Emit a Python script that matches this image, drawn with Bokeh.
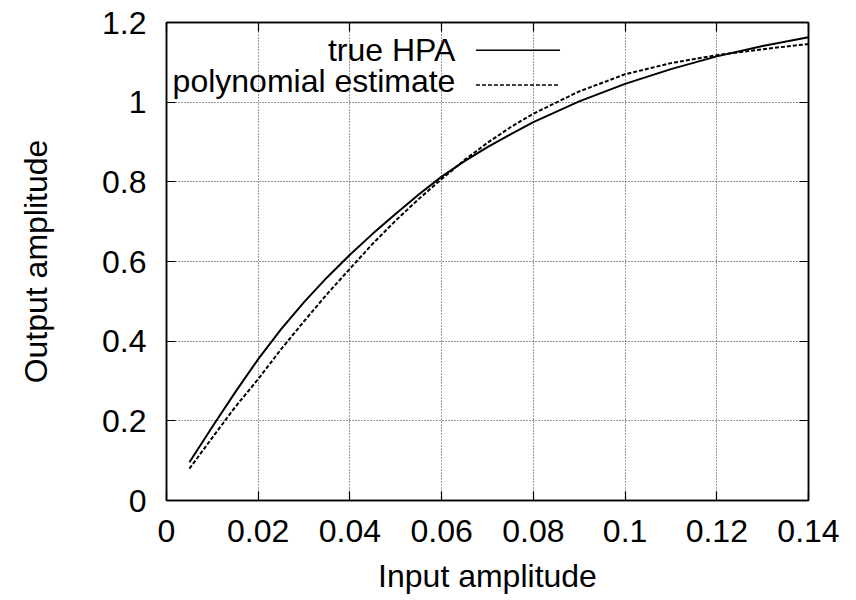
from bokeh.plotting import figure
from bokeh.models import FixedTicker, LinearAxis, Label, Range1d
from bokeh.embed import file_html
from bokeh.resources import INLINE

# ---- data ----
x_true = [0.005, 0.01, 0.015, 0.02, 0.025, 0.03, 0.035, 0.04, 0.045, 0.05, 0.055,
          0.06, 0.065, 0.07, 0.075, 0.08, 0.09, 0.10, 0.11, 0.12, 0.13, 0.14]
y_true = [0.096, 0.185, 0.272, 0.355, 0.430, 0.498, 0.560, 0.617, 0.670, 0.720, 0.768,
          0.813, 0.852, 0.887, 0.919, 0.950, 1.002, 1.046, 1.083, 1.115, 1.141, 1.163]

x_poly = [0.005, 0.01, 0.015, 0.02, 0.025, 0.03, 0.035, 0.04, 0.045, 0.05, 0.055,
          0.06, 0.065, 0.07, 0.075, 0.08, 0.09, 0.10, 0.11, 0.12, 0.13, 0.14]
y_poly = [0.080, 0.158, 0.235, 0.305, 0.380, 0.450, 0.518, 0.582, 0.645, 0.703, 0.757,
          0.807, 0.855, 0.898, 0.937, 0.971, 1.027, 1.070, 1.098, 1.118, 1.133, 1.146]

x_ticks = [0, 0.02, 0.04, 0.06, 0.08, 0.10, 0.12, 0.14]
x_tick_labels = ["0", "0.02", "0.04", "0.06", "0.08", "0.1", "0.12", "0.14"]
y_ticks = [0, 0.2, 0.4, 0.6, 0.8, 1.0, 1.2]
y_tick_labels = ["0", "0.2", "0.4", "0.6", "0.8", "1", "1.2"]

series_names = ["true HPA", "polynomial estimate"]
x_title = "Input amplitude"
y_title = "Output amplitude"

FONT = "Liberation Sans"
FS = "32px"
X0, X1 = 0.0, 0.14
Y0, Y1 = 0.0, 1.2

p = figure(width=848, height=600, output_backend="svg", toolbar_location=None,
           x_range=Range1d(X0, X1), y_range=Range1d(Y0, Y1),
           min_border_left=166, min_border_right=40, min_border_top=22,
           min_border_bottom=100)
p.background_fill_color = "white"
p.border_fill_color = "white"
p.outline_line_color = "black"
p.outline_line_width = 1.5

xt = FixedTicker(ticks=x_ticks)
yt = FixedTicker(ticks=y_ticks)

def style_axis(ax, ticker, labels, show_labels=True):
    ax.ticker = ticker
    ax.major_tick_in = 9
    ax.major_tick_out = 0
    ax.minor_tick_line_color = None
    ax.axis_line_color = "black"
    ax.axis_line_width = 1.5
    ax.major_tick_line_color = "black"
    ax.major_tick_line_width = 1.2
    ax.major_label_text_font = FONT
    ax.major_label_text_color = "black"
    if show_labels:
        ax.major_label_overrides = {t: l for t, l in zip(ticker.ticks, labels)}
        ax.major_label_text_font_size = FS
    else:
        ax.major_label_overrides = {t: "" for t in ticker.ticks}
        ax.major_label_text_font_size = "1px"
        ax.major_label_standoff = 0

style_axis(p.xaxis[0], xt, x_tick_labels)
style_axis(p.yaxis[0], yt, y_tick_labels)
p.xaxis[0].major_label_standoff = 19
p.yaxis[0].major_label_standoff = 20

p.xaxis[0].axis_label = x_title
p.yaxis[0].axis_label = y_title
for ax in (p.xaxis[0], p.yaxis[0]):
    ax.axis_label_text_font = FONT
    ax.axis_label_text_font_size = FS
    ax.axis_label_text_font_style = "normal"
    ax.axis_label_text_color = "black"
p.xaxis[0].axis_label_standoff = 13
p.yaxis[0].axis_label_standoff = 45

top_ax = LinearAxis()
right_ax = LinearAxis()
style_axis(top_ax, xt, x_tick_labels, show_labels=False)
style_axis(right_ax, yt, y_tick_labels, show_labels=False)
p.add_layout(top_ax, "above")
p.add_layout(right_ax, "right")

for g, t in ((p.xgrid[0], xt), (p.ygrid[0], yt)):
    g.ticker = t
    g.grid_line_color = "black"
    g.grid_line_alpha = 0.8
    g.grid_line_dash = "1 2"
    g.grid_line_width = 1

p.line(x_true, y_true, line_color="black", line_width=2)
p.line(x_poly, y_poly, line_color="black", line_width=2, line_dash="4 2")

# ---- helpers: positions as fractions of the frame ----
def fx(f):
    return X0 + f * (X1 - X0)

def fy(f):
    return Y0 + f * (Y1 - Y0)

# ---- key (gnuplot style: text then sample) ----
key_text_right = fx(0.450)
key_line = (fx(0.482), fx(0.613))
key_rows = [(0.942, 0.943), (0.869, 0.877)]   # (line y frac, text frac)
dashes = [None, "4 2"]
for name, (ly, ty), d in zip(series_names, key_rows, dashes):
    p.add_layout(Label(x=key_text_right, y=fy(ty), text=name, text_align="right",
                       text_baseline="alphabetic", text_font=FONT,
                       text_font_size=FS, text_color="black"))
    kw = dict(line_color="black", line_width=1.5)
    if d:
        kw["line_dash"] = d
    p.line([key_line[0], key_line[1]], [fy(ly), fy(ly)], **kw)

open("out.html", "w").write(file_html(p, INLINE))
